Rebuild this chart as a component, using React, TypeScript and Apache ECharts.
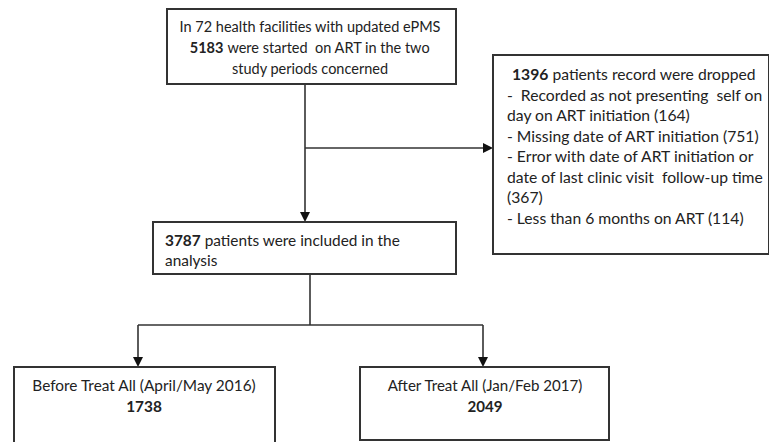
import React, { useEffect, useRef } from "react";
import * as echarts from "echarts";

const facilities = 72;
const startedTotal = 5183;
const droppedTotal = 1396;
const dropCounts = [164, 751, 367, 114];
const includedTotal = 3787;
const groupLabels = ["Before Treat All (April/May 2016)", "After Treat All (Jan/Feb 2017)"];
const groupCounts = [1738, 2049];

const FONT = "Lato, 'Open Sans', sans-serif";
const INK = "#222";
const LINE = "#333";

const measureCtx = document.createElement("canvas").getContext("2d")!;
function fit(str: string, target: number) {
  measureCtx.font = `normal 20px ${FONT}`;
  const w = measureCtx.measureText(str).width;
  return Math.round((20 * target / w) * 10) / 10;
}

function txt(x: number, y: number, text: string, align: string, fs: number) {
  return {
    type: "text",
    x,
    y,
    silent: true,
    style: {
      text,
      fontFamily: FONT,
      fontSize: fs,
      fill: INK,
      align,
      verticalAlign: "middle",
      rich: {
        b: { fontFamily: FONT, fontSize: fs, fontWeight: "bold", fill: INK },
      },
    },
  };
}

function box(x1: number, y1: number, x2: number, y2: number) {
  return {
    type: "rect",
    shape: { x: x1, y: y1, width: x2 - x1, height: y2 - y1 },
    style: { fill: "#fff", stroke: LINE, lineWidth: 2 },
  };
}

function seg(x1: number, y1: number, x2: number, y2: number) {
  return {
    type: "line",
    shape: { x1, y1, x2, y2 },
    style: { stroke: LINE, lineWidth: 1.6 },
  };
}

function arrowDown(x: number, y: number) {
  return {
    type: "polygon",
    shape: { points: [[x - 5, y - 10], [x + 5, y - 10], [x, y]] },
    style: { fill: "#111" },
  };
}

function arrowRight(x: number, y: number) {
  return {
    type: "polygon",
    shape: { points: [[x - 10, y - 5], [x - 10, y + 5], [x, y]] },
    style: { fill: "#111" },
  };
}

export default function App() {
  const ref = useRef<HTMLDivElement>(null);
  useEffect(() => {
    document.body.style.margin = "0";
    const chart = echarts.init(ref.current!, null, { renderer: "svg" });

    const topPlain = `In ${facilities} health facilities with updated ePMS`;
    const topLines = [
      topPlain,
      `{b|${startedTotal}} were started  on ART in the two`,
      `study periods concerned`,
    ];
    const dropRef = `date of last clinic visit  follow-up time`;
    const dropLines = [
      `{b|${droppedTotal}} patients record were dropped`,
      `-  Recorded as not presenting  self on`,
      `day on ART initiation (${dropCounts[0]})`,
      `- Missing date of ART initiation (${dropCounts[1]})`,
      `- Error with date of ART initiation or`,
      dropRef,
      `(${dropCounts[2]})`,
      `- Less than 6 months on ART (${dropCounts[3]})`,
    ];
    const inclRef = `${includedTotal} patients were included in the`;
    const inclLines = [`{b|${includedTotal}} patients were included in the`, `analysis`];

    const fsTop = fit(topPlain, 262);
    const fsDrop = fit(dropRef, 257);
    const fsIncl = fit(inclRef, 235);
    const fsG = [fit(groupLabels[0], 225), fit(groupLabels[1], 196)];

    const elements: any[] = [];
    // connectors
    elements.push(seg(305, 84, 305, 214));
    elements.push(arrowDown(305, 222));
    elements.push(seg(305, 148, 485, 148));
    elements.push(arrowRight(493, 148));
    elements.push(seg(310, 274, 310, 325));
    elements.push(seg(138, 325, 483, 325));
    elements.push(seg(138, 325, 138, 358));
    elements.push(arrowDown(138, 367));
    elements.push(seg(483, 325, 483, 358));
    elements.push(arrowDown(483, 367));

    // boxes
    elements.push(box(167, 9, 456, 84));
    elements.push(box(493, 55, 769, 254));
    elements.push(box(153, 222, 456, 274));
    elements.push(box(14, 367, 275, 450));
    elements.push(box(360, 367, 609, 440));

    // texts
    const topY = [26, 47, 68];
    topLines.forEach((t, i) => elements.push(txt(310, topY[i], t, "center", fsTop)));
    dropLines.forEach((t, i) =>
      elements.push(txt(i === 0 ? 512 : 507, 74 + i * 20.5, t, "left", fsDrop))
    );
    inclLines.forEach((t, i) => elements.push(txt(165, 240 + i * 20, t, "left", fsIncl)));
    const gx = [144, 485];
    groupLabels.forEach((g, i) => {
      elements.push(txt(gx[i], 385, g, "center", fsG[i]));
      elements.push(txt(gx[i], 406, `{b|${groupCounts[i]}}`, "center", fsG[i]));
    });

    chart.setOption({
      animation: false,
      backgroundColor: "#fff",
      graphic: { elements },
    });
    return () => chart.dispose();
  }, []);
  return <div ref={ref} style={{ width: 769, height: 442 }} />;
}
